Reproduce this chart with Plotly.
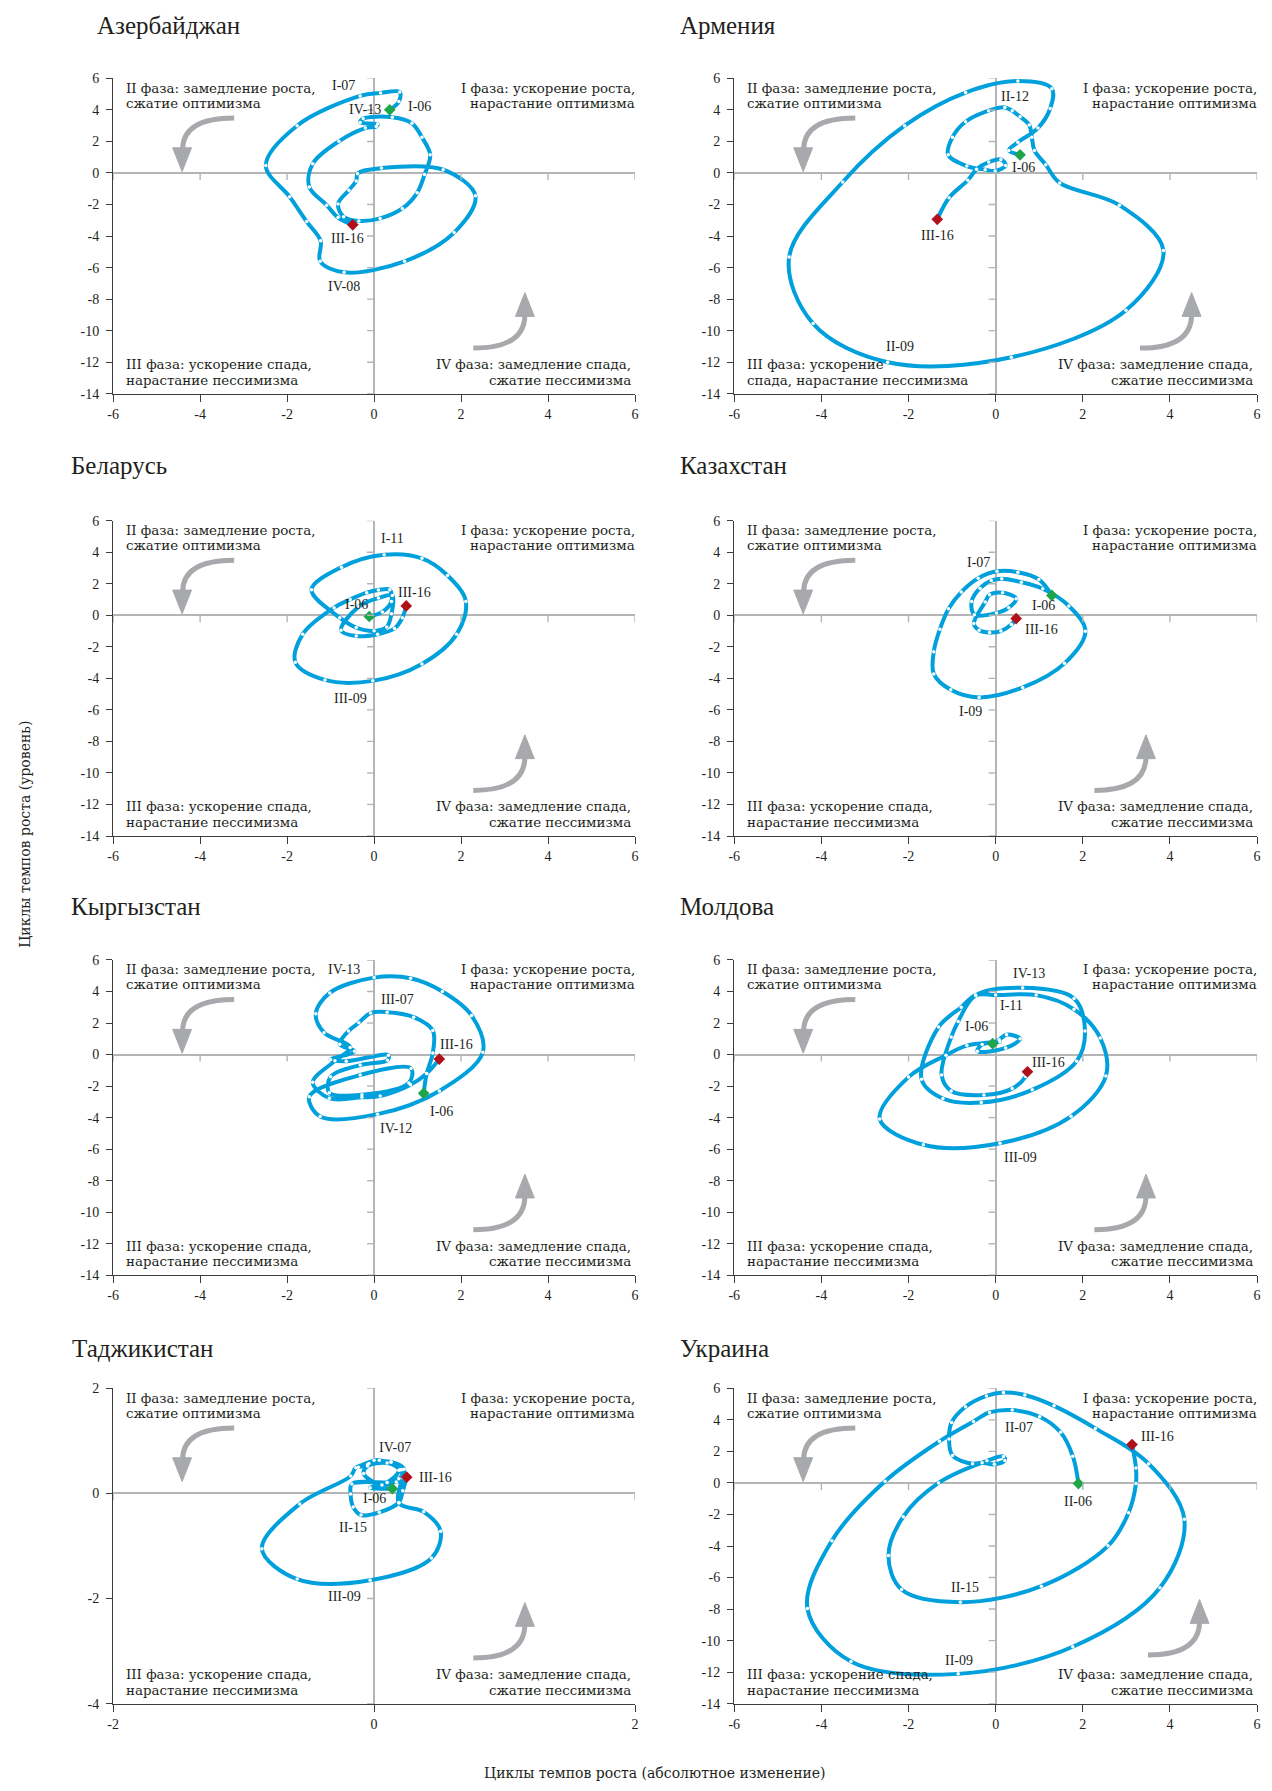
import plotly.graph_objects as go

FONT = "Liberation Serif"
FONT_TXT = "DejaVu Serif"
INK = "#231f20"
LINE_BLUE = "#00a0dc"
START_GREEN = "#1fa64a"
END_RED = "#b0101a"
ARROW_GRAY = "#a7a9ac"
AXIS_DARK = "#3d3d3d"
ZERO_GRAY = "#b5b5b5"

COUNTRIES = ["Азербайджан", "Армения", "Беларусь", "Казахстан",
             "Кыргызстан", "Молдова", "Таджикистан", "Украина"]

# ---- series (x = absolute change, y = level), quarterly ----
AZ_X = [0.36, 0.57, 0.59, 0.15, -0.32, -1.77, -2.49, -1.94, -1.55, -1.23, -1.24, -0.69, 0.70, 1.84, 2.33,
        1.59, 0.17, -0.38, -0.41, -0.58, -0.83, -0.70, -0.35, 0.14, 0.65, 0.99, 1.16, 1.29, 1.10, 0.87,
        0.42, -0.25, -0.32, 0.08, 0.05, -0.20, -0.81, -1.41, -1.49, -1.09, -0.83, -0.49]
AZ_Y = [4.01, 4.53, 5.14, 5.08, 4.89, 3.00, 0.48, -1.51, -3.08, -4.30, -5.60, -6.30, -5.60, -3.78, -1.45,
        0.21, 0.31, -0.04, -0.50, -1.09, -1.97, -2.77, -3.04, -2.88, -2.25, -1.26, -0.10, 1.15, 2.27, 3.15,
        3.53, 3.45, 3.20, 3.10, 2.95, 2.85, 2.01, 0.59, -0.88, -2.04, -2.83, -3.29]

ARM_X = [0.56, 0.30, 0.51, 0.97, 1.25, 1.29, 0.51, -0.69, -2.09, -3.51, -4.74, -4.19, -2.48, 0.36, 2.99,
         3.85, 2.84, 1.47, 1.15, 0.89, 0.83, 0.77, 0.56, 0.38, 0.21, -0.16, -0.69, -0.99, -1.09, -0.66,
         -0.24, -0.01, 0.23, 0.12, -0.16, -0.44, -0.64, -1.07, -1.34]
ARM_Y = [1.15, 1.43, 1.95, 2.85, 4.09, 5.35, 5.83, 5.10, 3.00, -0.57, -5.33, -9.55, -12.00, -11.69, -8.71,
         -4.91, -2.04, -0.63, 0.52, 1.43, 2.27, 3.04, 3.57, 3.95, 4.16, 3.95, 3.25, 2.27, 1.15, 0.44,
         0.21, 0.13, 0.48, 0.86, 0.69, 0.23, -0.46, -1.57, -2.94]

BEL_X = [-0.11, 0.19, 0.40, 0.36, 0.10, -0.17, -0.55, -0.92, -1.64, -1.81, -1.13, -0.03, 1.10, 1.90, 2.11,
         1.69, 1.10, 0.23, -0.75, -1.44, -0.79, -0.41, 0.00, 0.29, 0.40, 0.42, 0.10, -0.35, -0.76, -0.41,
         0.08, 0.47, 0.65, 0.74]
BEL_Y = [-0.08, 0.21, 0.88, 1.62, 1.60, 1.43, 1.00, 0.48, -1.20, -2.98, -4.10, -4.16, -3.09, -1.20, 0.88,
         2.52, 3.61, 3.84, 3.05, 1.62, -0.15, -0.78, -0.99, -0.74, 0.10, 1.26, 1.09, 0.55, -0.95, -1.32,
         -1.20, -0.84, -0.15, 0.59]

KAZ_X = [1.29, 0.99, 0.51, 0.03, -0.40, -0.79, -1.08, -1.28, -1.42, -1.42, -1.03, -0.38, 0.62, 1.58, 2.06,
         1.68, 1.08, 0.59, 0.14, -0.10, -0.36, -0.55, -0.49, 0.02, 0.30, 0.47, 0.16, -0.14, -0.24, -0.50,
         -0.38, -0.14, 0.12, 0.36, 0.47]
KAZ_Y = [1.26, 2.27, 2.73, 2.79, 2.35, 1.47, 0.42, -0.88, -2.31, -3.72, -4.73, -5.21, -4.58, -3.05, -1.01,
         0.59, 1.68, 2.10, 2.31, 2.20, 1.72, 0.88, 0.04, 0.15, 0.48, 1.05, 1.43, 1.30, 0.84, -0.53,
         -0.95, -1.09, -1.00, -0.59, -0.21]

KYR_X = [1.14, 1.21, 1.35, 1.35, 0.91, 0.30, -0.08, -0.35, -0.59, -0.79, -0.45, -1.00, -0.64, 0.33, 0.31,
         -0.32, -1.00, -1.03, -0.28, 0.80, 0.85, -0.32, -1.49, -1.24, 0.08, 1.50, 2.50, 2.24, 1.57, 0.84,
         0.00, -1.02, -1.34, -1.15, -0.55, -0.90, -1.41, -1.03, -0.28, 0.14, 0.84, 1.21, 1.50]
KYR_Y = [-2.46, -1.20, 0.10, 1.53, 2.37, 2.69, 2.63, 2.02, 1.49, 0.65, 0.21, -0.32, -0.42, -0.04, -0.36,
         -0.67, -1.41, -2.42, -2.55, -1.80, -0.88, -1.30, -2.67, -3.93, -3.78, -2.31, 0.15, 2.48, 4.00, 4.84,
         4.88, 3.91, 2.58, 1.39, 0.45, -0.40, -1.76, -2.77, -2.71, -2.63, -1.92, -1.20, -0.29]

MOL_X = [-0.07, 0.08, 0.25, 0.56, 0.23, -0.42, -0.31, 0.10, -0.66, -1.14, -2.00, -2.66, -1.66, 0.10, 1.73,
         2.53, 2.40, 1.80, 0.93, 0.00, -0.46, -0.79, -1.31, -1.70, -1.21, -0.33, 0.84, 1.86, 2.05, 1.80,
         0.62, -0.46, -0.86, -1.02, -1.24, -1.02, -0.27, 0.38, 0.69, 0.73]
MOL_Y = [0.69, 0.94, 1.26, 1.00, 0.42, 0.21, 0.63, 0.80, 0.57, -0.04, -1.43, -4.09, -5.72, -5.62, -3.92,
         -1.36, 1.05, 2.87, 3.77, 3.77, 3.77, 3.00, 1.74, -1.57, -2.79, -3.04, -2.24, -0.42, 1.50, 3.56,
         4.23, 3.75, 2.10, 1.11, -1.30, -2.31, -2.56, -2.16, -1.40, -1.09]

TAJ_X = [0.14, -0.03, 0.10, 0.19, 0.13, -0.05, -0.12, 0.00, 0.04, 0.21, 0.19, 0.38, 0.51, 0.44, -0.03,
         -0.59, -0.86, -0.57, -0.18, -0.14, -0.04, 0.13, 0.23, 0.19, 0.06, -0.08, -0.05, 0.10, 0.20, 0.22,
         0.17, -0.17, -0.18, -0.16, -0.10, 0.04, 0.19, 0.22, 0.25]
TAJ_Y = [0.09, 0.11, 0.21, 0.44, 0.60, 0.55, 0.50, 0.63, 0.63, 0.45, -0.18, -0.35, -0.72, -1.23, -1.65,
         -1.63, -1.05, -0.20, 0.33, 0.49, 0.57, 0.60, 0.46, 0.28, 0.16, 0.38, 0.52, 0.58, 0.45, 0.30,
         0.22, 0.18, -0.01, -0.26, -0.41, -0.36, -0.17, 0.05, 0.31]

UKR_X = [1.90, 1.77, 1.49, 1.01, 0.38, -0.14, -0.51, -1.29, -2.54, -3.76, -4.32, -3.32, -0.86, 1.77, 3.77,
         4.33, 3.51, 2.29, 1.34, 0.67, 0.18, -0.21, -0.69, -1.01, -1.07, -0.99, -0.53, -0.31, -0.03, 0.21,
         0.18, -0.20, -1.31, -2.12, -2.46, -2.16, -0.81, 1.05, 2.58, 3.05, 3.22, 3.22, 3.13]
UKR_Y = [-0.04, 1.70, 3.21, 4.20, 4.62, 4.47, 3.90, 2.64, 0.10, -3.67, -7.97, -11.33, -12.11, -10.39, -6.65,
         -2.31, 1.22, 3.46, 4.89, 5.58, 5.73, 5.52, 4.83, 3.84, 2.79, 1.74, 1.22, 1.28, 1.18, 1.43,
         1.68, 1.40, 0.00, -2.14, -4.60, -6.76, -7.56, -6.55, -3.99, -1.89, -0.04, 0.94, 2.43]

# ---- quarter labels (text, x, y) ----
AZ_LABELS = [("I-07", -0.70, 5.52), ("IV-13", -0.20, 4.05), ("I-06", 1.04, 4.20),
             ("III-16", -0.60, -4.13), ("IV-08", -0.70, -7.18)]
ARM_LABELS = [("IV-07", 0.83, 6.63), ("II-12", 0.45, 4.85), ("I-06", 0.64, 0.38),
              ("III-16", -1.34, -3.97), ("II-09", -2.20, -11.0)]
BEL_LABELS = [("I-11", 0.42, 4.87), ("III-16", 0.93, 1.43), ("I-06", -0.41, 0.67), ("III-09", -0.54, -5.29)]
KAZ_LABELS = [("I-07", -0.40, 3.36), ("I-06", 1.09, 0.59), ("III-16", 1.05, -0.90), ("I-09", -0.57, -6.09)]
KYR_LABELS = [("IV-13", -0.70, 5.42), ("III-07", 0.53, 3.47), ("III-16", 1.89, 0.65),
              ("I-06", 1.56, -3.61), ("IV-12", 0.51, -4.71)]
MOL_LABELS = [("IV-13", 0.77, 5.14), ("I-11", 0.36, 3.08), ("I-06", -0.43, 1.78),
              ("III-16", 1.21, -0.48), ("III-09", 0.56, -6.56)]
TAJ_LABELS = [("IV-07", 0.16, 0.88), ("III-16", 0.47, 0.30), ("I-06", 0.0, -0.09),
              ("II-15", -0.16, -0.64), ("III-09", -0.23, -1.96)]
UKR_LABELS = [("II-11", 0.49, 6.46), ("II-07", 0.54, 3.53), ("III-16", 3.72, 2.94),
              ("II-06", 1.88, -1.20), ("II-15", -0.70, -6.61), ("II-09", -0.85, -11.27)]

# ---- ticks ----
WIDE_X_TICKS = [-6, -4, -2, 0, 2, 4, 6]
WIDE_Y_TICKS = [-14, -12, -10, -8, -6, -4, -2, 0, 2, 4, 6]
TJ_X_TICKS = [-2, 0, 2]
TJ_Y_TICKS = [-4, -2, 0, 2]

PHASE_I = ["I фаза: ускорение роста,", "нарастание оптимизма"]
PHASE_II = ["II фаза: замедление роста,", "сжатие оптимизма"]
PHASE_III = ["III фаза: ускорение спада,", "нарастание пессимизма"]
PHASE_III_ARM = ["III фаза: ускорение", "спада, нарастание пессимизма"]
PHASE_IV = ["IV фаза: замедление спада,", "сжатие пессимизма"]

X_TITLE = "Циклы темпов роста (абсолютное изменение)"
Y_TITLE = "Циклы темпов роста (уровень)"

SERIES = [(AZ_X, AZ_Y, AZ_LABELS), (ARM_X, ARM_Y, ARM_LABELS), (BEL_X, BEL_Y, BEL_LABELS),
          (KAZ_X, KAZ_Y, KAZ_LABELS), (KYR_X, KYR_Y, KYR_LABELS), (MOL_X, MOL_Y, MOL_LABELS),
          (TAJ_X, TAJ_Y, TAJ_LABELS), (UKR_X, UKR_Y, UKR_LABELS)]

# ---- layout geometry (pixels) ----
W, H = 1272, 1791
COL_PX = [(108, 634), (734, 1261)]
ROW_PX = [(72, 390), (518, 836), (961, 1279), (1393, 1711)]
TITLE_X_PX = [90, 677, 64, 677, 64, 677, 65, 677]
TITLE_BASE_PX = [28, 28, 472, 472, 917, 917, 1362, 1362]
ARROW_IV_SHIFT = [(0, 0), (46, 0), (0, 0), (0, 0), (0, 0), (0, 0), (0, 0), (54, -3)]

fig = go.Figure()
layout = dict(width=W, height=H, margin=dict(l=0, r=0, t=0, b=0),
              paper_bgcolor="white", plot_bgcolor="white", showlegend=False)
annotations = []
shapes = []

for i, (xs, ys, labels) in enumerate(SERIES):
    n = i + 1
    sfx = "" if n == 1 else str(n)
    xa, ya = "x" + sfx, "y" + sfx
    col, row = i % 2, i // 2
    x0p, x1p = COL_PX[col]
    y0p, y1p = ROW_PX[row]
    wp, hp = x1p - x0p, y1p - y0p
    taj = COUNTRIES[i] == "Таджикистан"
    xt = TJ_X_TICKS if taj else WIDE_X_TICKS
    yt = TJ_Y_TICKS if taj else WIDE_Y_TICKS
    xr = [xt[0], xt[-1]]
    yr = [yt[0], yt[-1]]

    common = dict(showline=True, linecolor=AXIS_DARK, linewidth=1.3, ticks="outside",
                  tickwidth=1.2, tickcolor=AXIS_DARK, showgrid=False, zeroline=True,
                  zerolinecolor=ZERO_GRAY, zerolinewidth=1.6, fixedrange=True,
                  tickfont=dict(family=FONT, size=14, color=INK))
    layout["xaxis" + sfx] = dict(domain=[x0p / W, x1p / W], range=xr, tickvals=xt,
                                 ticktext=[str(v) for v in xt], anchor=ya, ticklen=7, **common)
    layout["yaxis" + sfx] = dict(domain=[1 - y1p / H, 1 - y0p / H], range=yr, tickvals=yt,
                                 ticktext=[str(v) for v in yt], anchor=xa, ticklen=6,
                                 ticklabelstandoff=4, **common)

    # tick marks on the zero lines
    for t in yt:
        shapes.append(dict(type="line", xref=xa, yref=ya, xsizemode="pixel", xanchor=0,
                           x0=-7, x1=0, y0=t, y1=t, line=dict(color=ZERO_GRAY, width=1.4)))
    for t in xt:
        if t == 0:
            continue
        shapes.append(dict(type="line", xref=xa, yref=ya, ysizemode="pixel", yanchor=0,
                           y0=-7, y1=0, x0=t, x1=t, line=dict(color=ZERO_GRAY, width=1.4)))

    # curved phase arrows (pixel offsets inside plot area -> data coords)
    def P(ox, oy):
        return (xr[0] + ox / wp * (xr[1] - xr[0]), yr[1] - oy / hp * (yr[1] - yr[0]))

    def path(cmds):
        out = []
        for c, pts in cmds:
            out.append(c + " ".join("%.4f,%.4f" % P(*p) for p in pts))
        return " ".join(out)

    shapes.append(dict(type="path", xref=xa, yref=ya, layer="below",
                       path=path([("M", [(122, 40)]), ("Q", [(70, 40), (70, 72)])]),
                       line=dict(color=ARROW_GRAY, width=5)))
    shapes.append(dict(type="path", xref=xa, yref=ya, layer="below",
                       path=path([("M", [(60, 70)]), ("L", [(79, 70)]), ("L", [(69.5, 94)])]) + " Z",
                       fillcolor=ARROW_GRAY, line=dict(color=ARROW_GRAY, width=1)))
    s, dy = ARROW_IV_SHIFT[i]
    shapes.append(dict(type="path", xref=xa, yref=ya, layer="below",
                       path=path([("M", [(363 + s, 272 + dy)]),
                                  ("Q", [(415 + s, 272 + dy), (415 + s, 238 + dy)])]),
                       line=dict(color=ARROW_GRAY, width=5)))
    shapes.append(dict(type="path", xref=xa, yref=ya, layer="below",
                       path=path([("M", [(405.5 + s, 240 + dy)]), ("L", [(424.5 + s, 240 + dy)]),
                                  ("L", [(415 + s, 216 + dy)])]) + " Z",
                       fillcolor=ARROW_GRAY, line=dict(color=ARROW_GRAY, width=1)))

    # curve
    fig.add_trace(go.Scatter(x=xs, y=ys, xaxis=xa, yaxis=ya, mode="lines+markers",
                             line=dict(color=LINE_BLUE, width=4, shape="spline", smoothing=1.0),
                             marker=dict(color="white", size=3.5), hoverinfo="skip", cliponaxis=False))
    fig.add_trace(go.Scatter(x=[xs[0]], y=[ys[0]], xaxis=xa, yaxis=ya, mode="markers",
                             marker=dict(symbol="diamond", color=START_GREEN, size=9), hoverinfo="skip"))
    fig.add_trace(go.Scatter(x=[xs[-1]], y=[ys[-1]], xaxis=xa, yaxis=ya, mode="markers",
                             marker=dict(symbol="diamond", color=END_RED, size=9), hoverinfo="skip"))

    for txt, lx, ly in labels:
        annotations.append(dict(text=txt, x=lx, y=ly, xref=xa, yref=ya, showarrow=False,
                                xanchor="center", yanchor="middle",
                                font=dict(family=FONT, size=14, color=INK)))

    # phase texts
    bl = PHASE_III_ARM if COUNTRIES[i] == "Армения" else PHASE_III
    xd, yd = xa + " domain", ya + " domain"
    pf = dict(family=FONT_TXT, size=13.4, color=INK)
    for k, line in enumerate(PHASE_II):
        annotations.append(dict(text=line, x=0, xshift=11, y=1 - (10 + 15 * k) / hp, xref=xd, yref=yd,
                                xanchor="left", yanchor="middle", showarrow=False, font=pf))
    for k, line in enumerate(PHASE_I):
        annotations.append(dict(text=line, x=1, xshift=2, y=1 - (10 + 15 * k) / hp, xref=xd, yref=yd,
                                xanchor="right", yanchor="middle", showarrow=False, font=pf))
    for k, line in enumerate(bl):
        annotations.append(dict(text=line, x=0, xshift=11, y=(29.5 - 16 * k) / hp, xref=xd, yref=yd,
                                xanchor="left", yanchor="middle", showarrow=False, font=pf))
    for k, line in enumerate(PHASE_IV):
        annotations.append(dict(text=line, x=1, xshift=-2, y=(29.5 - 16 * k) / hp, xref=xd, yref=yd,
                                xanchor="right", yanchor="middle", showarrow=False, font=pf))

    # country title
    annotations.append(dict(text=COUNTRIES[i], x=TITLE_X_PX[i] / W, y=1 - (TITLE_BASE_PX[i] + 6) / H,
                            xref="paper", yref="paper", xanchor="left", yanchor="bottom",
                            showarrow=False, font=dict(family=FONT, size=25, color=INK)))

annotations.append(dict(text=X_TITLE, x=654 / W, y=1 - 1781 / H, xref="paper", yref="paper",
                        xanchor="center", yanchor="middle", showarrow=False,
                        font=dict(family=FONT_TXT, size=14, color=INK)))
annotations.append(dict(text=Y_TITLE, x=19 / W, y=1 - 834 / H, xref="paper", yref="paper",
                        xanchor="center", yanchor="middle", showarrow=False, textangle=-90,
                        font=dict(family=FONT_TXT, size=14, color=INK)))

layout["annotations"] = annotations
layout["shapes"] = shapes
fig.update_layout(**layout)
fig.write_html("out.html", config={"displayModeBar": False},
               post_script="document.body.style.margin='0';document.body.style.overflow='hidden';")
